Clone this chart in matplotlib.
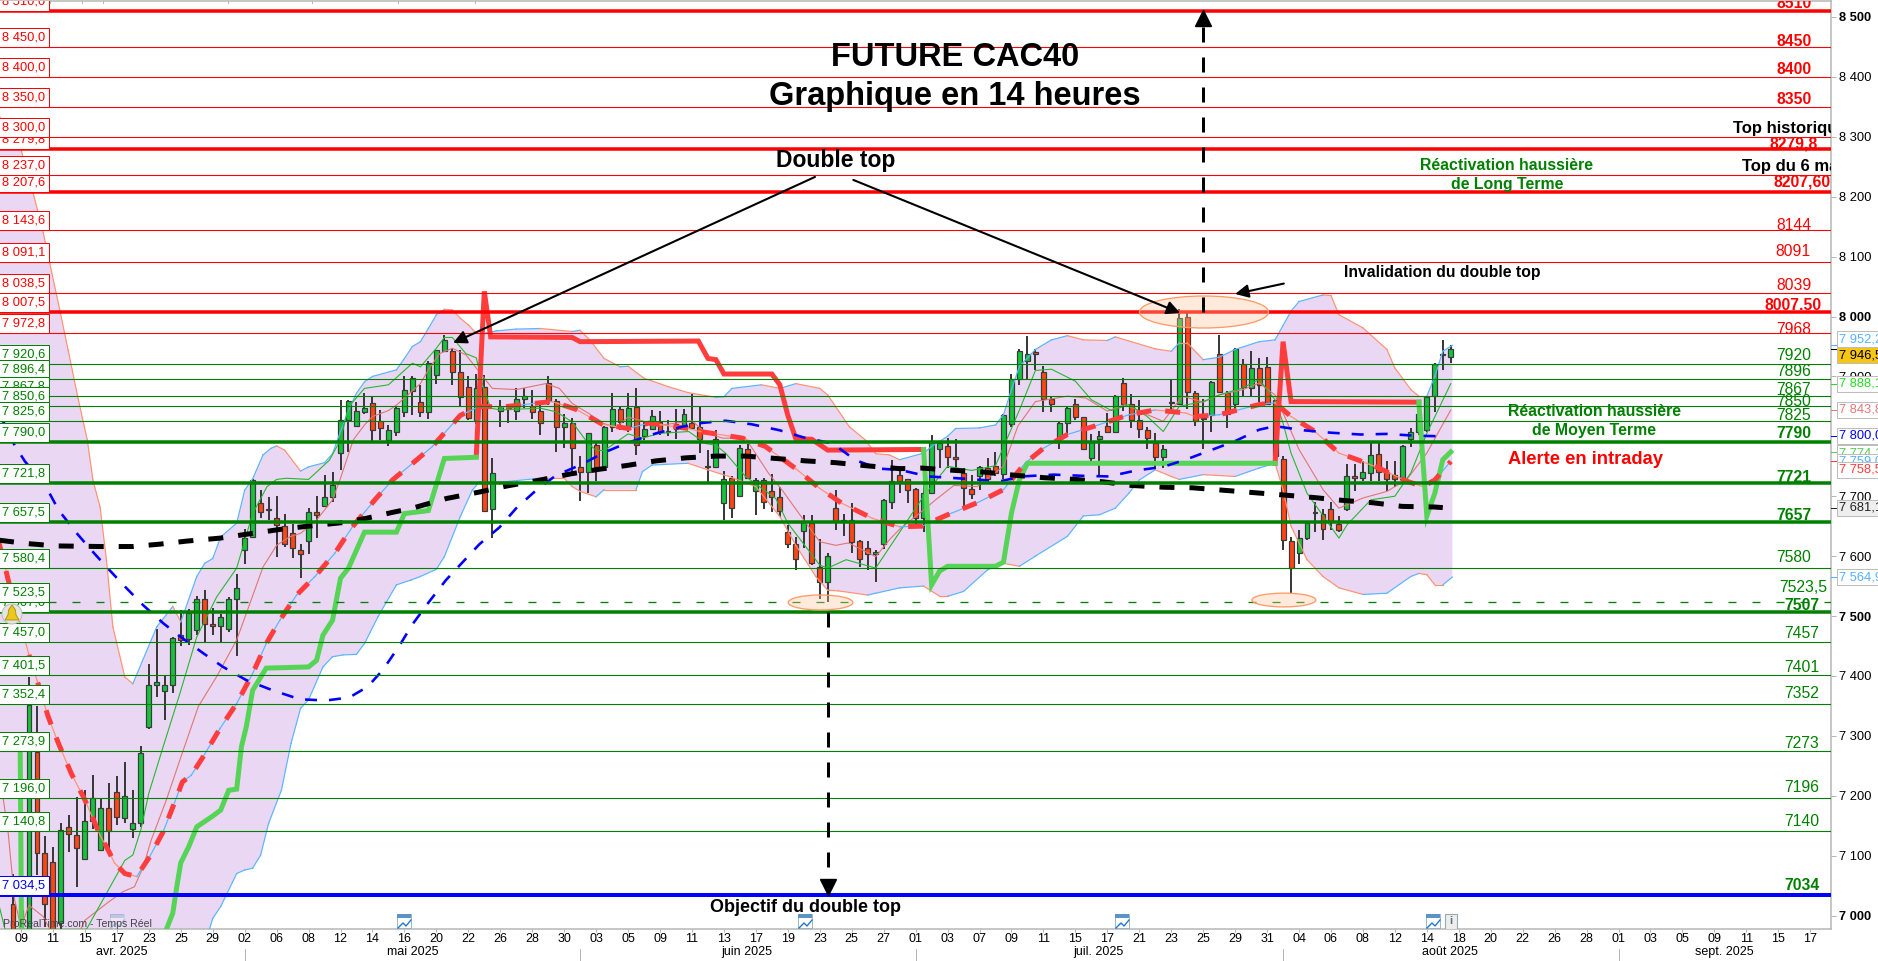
"""
Future CAC40, 14 hour candles with levels, Bollinger bands, moving averages and notes.
Saved as out.png
"""

import matplotlib
matplotlib.use("Agg")
import matplotlib.pyplot as plt
import matplotlib.transforms as mtransforms
from matplotlib.patches import Rectangle, Ellipse, Circle, Polygon

# ──────────────────────────────────────────────
# Configuration
# ──────────────────────────────────────────────
W, H = 1878, 961
FONT = "Liberation Sans"
GREEN = "#008000"
RED = "#ff0000"
BLUE = "#0000ff"
PX = 0.72  # one pixel in points at dpi 100

plt.rcParams["font.family"] = [FONT, "DejaVu Sans"]
plt.rcParams["lines.scale_dashes"] = False

# ──────────────────────────────────────────────
# Candles, first one sits at index -1
# ──────────────────────────────────────────────
OPEN = [
    7020, 7010, 6960, 7273, 7105, 7090, 6987, 7148, 7135, 7094,
    7158, 7110, 7180, 7207, 7162, 7144, 7154, 7314, 7384, 7374,
    7385, 7469, 7461, 7477, 7528, 7486, 7484, 7479, 7528, 7610,
    7632, 7688, 7678, 7664, 7651, 7638, 7611, 7626, 7674, 7684,
    7699, 7772, 7827, 7817, 7841, 7855, 7826, 7794, 7808, 7840,
    7876, 7857, 7840, 7903, 7943, 7942, 7907, 7883, 7828, 7882,
    7678, 7843, 7845, 7843, 7862, 7851, 7842, 7889, 7859, 7815,
    7822, 7749, 7741, 7786, 7749, 7815, 7845, 7817, 7849, 7801,
    7812, 7824, 7809, 7813, 7819, 7822, 7816, 7751, 7748, 7688,
    7730, 7701, 7779, 7709, 7727, 7709, 7698, 7641, 7621, 7642,
    7655, 7581, 7556, 7680, 7661, 7661, 7625, 7613, 7603, 7621,
    7691, 7736, 7728, 7712, 7664, 7705, 7778, 7783, 7765, 7739,
    7712, 7733, 7747, 7750, 7737, 7821, 7895, 7926, 7940, 7907,
    7863, 7795, 7822, 7854, 7832, 7763, 7795, 7818, 7807, 7889,
    7854, 7827, 7811, 7789, 7765, 7857, 7854, 7999, 7872, 7829,
    7836, 7938, 7873, 7854, 7921, 7881, 7914, 7916, 7860, 7762,
    7626, 7606, 7630, 7672, 7670, 7679, 7654, 7679, 7733, 7730,
    7739, 7770, 7741, 7736, 7728, 7795, 7807, 7811, 7867, 7937,
    7933,
]
HIGH = [
    7070, 7040, 7399, 7349, 7132, 7115, 7155, 7168, 7198, 7209,
    7234, 7196, 7221, 7233, 7256, 7209, 7283, 7420, 7479, 7400,
    7465, 7510, 7511, 7533, 7544, 7514, 7503, 7532, 7570, 7646,
    7729, 7711, 7698, 7700, 7671, 7653, 7620, 7680, 7700, 7735,
    7740, 7861, 7861, 7858, 7872, 7866, 7844, 7819, 7850, 7900,
    7901, 7886, 7926, 7944, 7969, 7945, 7944, 7901, 7904, 7902,
    7763, 7861, 7849, 7880, 7880, 7877, 7855, 7901, 7863, 7838,
    7830, 7767, 7806, 7788, 7817, 7872, 7851, 7872, 7880, 7824,
    7844, 7842, 7828, 7846, 7846, 7870, 7849, 7777, 7810, 7742,
    7733, 7785, 7787, 7731, 7730, 7737, 7715, 7652, 7632, 7669,
    7669, 7628, 7605, 7710, 7670, 7688, 7627, 7625, 7610, 7695,
    7761, 7750, 7729, 7714, 7728, 7803, 7789, 7797, 7795, 7747,
    7736, 7750, 7763, 7774, 7837, 7904, 7945, 7968, 7945, 7917,
    7868, 7825, 7850, 7863, 7833, 7804, 7809, 7839, 7869, 7897,
    7871, 7861, 7815, 7806, 7786, 7895, 8013, 8009, 7875, 7862,
    7893, 7969, 7875, 7947, 7929, 7943, 7931, 7932, 7861, 7767,
    7632, 7644, 7655, 7691, 7678, 7691, 7667, 7753, 7754, 7759,
    7789, 7789, 7758, 7758, 7786, 7814, 7837, 7867, 7922, 7961,
    7952,
]
LOW = [
    6950, 6950, 6950, 7068, 6981, 6950, 6960, 7106, 7047, 7094,
    7145, 7110, 7110, 7151, 7155, 7129, 7148, 7311, 7365, 7327,
    7372, 7450, 7452, 7469, 7457, 7468, 7457, 7474, 7434, 7586,
    7630, 7664, 7661, 7599, 7616, 7597, 7564, 7603, 7631, 7684,
    7691, 7744, 7774, 7816, 7838, 7788, 7794, 7784, 7800, 7832,
    7836, 7832, 7829, 7888, 7943, 7886, 7851, 7828, 7821, 7676,
    7630, 7816, 7823, 7827, 7847, 7829, 7802, 7852, 7773, 7780,
    7738, 7692, 7705, 7726, 7748, 7807, 7810, 7808, 7769, 7794,
    7810, 7802, 7800, 7795, 7812, 7812, 7772, 7723, 7748, 7660,
    7663, 7701, 7729, 7669, 7679, 7674, 7665, 7614, 7576, 7613,
    7585, 7528, 7524, 7643, 7634, 7605, 7581, 7577, 7557, 7612,
    7678, 7705, 7688, 7650, 7641, 7705, 7747, 7747, 7739, 7684,
    7696, 7710, 7725, 7733, 7728, 7815, 7886, 7895, 7911, 7840,
    7840, 7779, 7804, 7828, 7778, 7758, 7733, 7807, 7807, 7842,
    7814, 7797, 7778, 7746, 7747, 7839, 7853, 7846, 7817, 7778,
    7808, 7872, 7814, 7839, 7868, 7868, 7858, 7853, 7767, 7610,
    7538, 7587, 7627, 7641, 7627, 7643, 7641, 7676, 7708, 7725,
    7725, 7725, 7708, 7716, 7725, 7782, 7803, 7808, 7840, 7910,
    7923,
]
CLOSE = [
    6960, 6970, 7351, 7104, 7020, 6975, 7142, 7136, 7112, 7157,
    7197, 7179, 7141, 7164, 7200, 7154, 7271, 7385, 7390, 7384,
    7464, 7460, 7505, 7528, 7487, 7484, 7499, 7528, 7546, 7631,
    7727, 7674, 7677, 7652, 7621, 7613, 7603, 7673, 7669, 7699,
    7719, 7828, 7859, 7843, 7848, 7811, 7814, 7811, 7847, 7877,
    7898, 7840, 7923, 7944, 7960, 7907, 7865, 7831, 7880, 7676,
    7738, 7849, 7848, 7863, 7868, 7841, 7823, 7859, 7815, 7823,
    7780, 7740, 7805, 7749, 7815, 7845, 7824, 7848, 7785, 7813,
    7834, 7807, 7807, 7820, 7838, 7814, 7795, 7748, 7795, 7728,
    7681, 7780, 7731, 7727, 7690, 7699, 7675, 7621, 7596, 7657,
    7588, 7556, 7601, 7659, 7659, 7624, 7596, 7603, 7607, 7694,
    7726, 7725, 7710, 7664, 7705, 7790, 7789, 7765, 7762, 7714,
    7704, 7749, 7728, 7739, 7836, 7896, 7943, 7937, 7938, 7862,
    7854, 7822, 7847, 7832, 7779, 7790, 7800, 7807, 7868, 7854,
    7827, 7812, 7798, 7765, 7779, 7855, 7998, 7874, 7825, 7831,
    7891, 7874, 7837, 7945, 7882, 7914, 7886, 7854, 7767, 7627,
    7580, 7630, 7655, 7674, 7645, 7658, 7644, 7733, 7730, 7740,
    7769, 7741, 7728, 7728, 7784, 7807, 7837, 7866, 7921, 7935,
    7946,
]

# ──────────────────────────────────────────────
# Indicators read at their bends: index and price
# ──────────────────────────────────────────────
UPPER_X = [
    -3, 0, 1.5, 2.8, 3.6, 4.9, 5.9, 7.1, 8.3, 9, 9.9, 10.7, 11.5, 13, 14, 17, 19, 20, 22, 23, 24, 25, 27, 28, 29,
    30.3, 31.3, 32, 33, 35, 36, 38, 39, 40, 41, 42, 43, 44, 47, 48, 49, 50, 51, 52, 53, 54, 55, 56, 57, 58,
    59.5, 62, 65, 69, 70, 71.2, 73, 75, 76, 78, 81, 83.5, 87, 88, 89, 92.7, 95, 97, 100, 101, 103.7, 105.7, 107,
    108.7, 110, 113, 114, 116, 117, 120, 122, 123, 124, 125, 127, 129, 131, 133, 136, 137, 142, 144, 145, 146,
    148, 150, 152, 155, 157, 159, 160, 163, 164, 165, 168, 171, 172, 174, 175, 176, 177, 178, 179.2,
]
UPPER_Y = [
    8340, 8279, 8207, 8139, 8089, 8008, 7944, 7866, 7794, 7727, 7682, 7593, 7482, 7398, 7387, 7482, 7516, 7490,
    7566, 7588, 7596, 7632, 7655, 7710, 7729,
    7769, 7780, 7784, 7777, 7742, 7749, 7756, 7771, 7808, 7844, 7872, 7891, 7900, 7911, 7930, 7950, 7958, 7980,
    8003, 8012, 8011, 7997, 7986, 7972, 7972,
    7976, 7979, 7980, 7975, 7977, 7961, 7930, 7916, 7917, 7897, 7883, 7873, 7865, 7866, 7880, 7886, 7880, 7888,
    7880, 7869, 7816, 7794, 7771,
    7769, 7761, 7772, 7783, 7800, 7813, 7814, 7819, 7836, 7878, 7917, 7945, 7961, 7968, 7961, 7960, 7966, 7946,
    7942, 7956, 7956,
    7928, 7932, 7945, 7958, 7961, 8009, 8025, 8036, 8035, 8003, 7981, 7945, 7914, 7878, 7867, 7867, 7900, 7942,
    7952,
]
LOWER_X = [
    -3, 23.6, 24, 25, 27, 28, 29, 30, 31, 32.6, 33.8, 35, 36, 37.8, 39, 40.3, 42, 43, 44.7, 47, 48.8, 50, 52, 53,
    55, 56.5, 57.4, 59, 65, 68, 69, 70, 72, 73, 77, 77.8, 79, 83.5, 86, 88.6, 92, 95, 97, 99.5, 101, 102.3, 106,
    107, 110, 113, 115, 116, 118, 121, 123, 125, 127, 131, 133, 135, 137, 138.7, 140, 142, 144, 145, 148, 152,
    155, 157, 158, 159, 161, 163, 165, 168, 171, 174, 175, 176, 177, 178, 179.2,
]
LOWER_Y = [
    6900, 6977, 6995, 7015, 7070, 7076, 7079, 7101, 7154, 7209, 7287, 7346, 7360, 7415, 7432, 7435, 7436, 7454,
    7499, 7552, 7560, 7566, 7578, 7599,
    7666, 7710, 7724, 7722, 7730, 7730, 7716, 7708, 7699, 7711, 7711, 7741, 7752, 7755, 7744, 7733, 7716, 7666,
    7618, 7566, 7543, 7542, 7535,
    7538, 7547, 7550, 7533, 7533, 7541, 7577, 7588, 7583, 7600, 7633, 7667, 7669, 7680, 7705, 7727, 7744, 7733,
    7728, 7736, 7733,
    7747, 7755, 7711, 7650, 7594, 7566, 7547, 7536, 7538, 7566, 7571, 7569, 7552, 7552, 7565,
]
MIDDLE_X = [
    -3, -2.2, -1.6, -0.8, 0, 1, 2.8, 3.6, 7.4, 8, 11, 12.8, 14.2, 15.3, 16.3, 18.2, 19.9, 22.2, 24.5, 27, 28.2,
    30.3, 32, 33.6, 35, 37, 39, 40, 41.6, 43, 44, 46, 47, 50, 51, 52.4, 54, 55.7, 57, 59, 62, 65.7, 67.4, 69, 71.1,
    72.8, 74.5, 76, 78.6, 80.3, 82, 84, 85.7, 87.8, 90.7, 93.6, 95.3, 97.4, 100, 102, 103.6, 107, 108.7, 110, 113,
    114.5, 116.8, 119.7, 123, 124.8, 127, 131, 133.3, 136, 138.2, 140.5, 143, 145.4, 148, 150, 153, 155, 157, 158,
    160, 163, 165, 168, 171, 173.5, 176, 179,
]
MIDDLE_Y = [
    7230, 7193, 7137, 7026, 6981, 7017, 6998, 6977, 6975, 6992, 7023, 7040, 7048, 7081, 7126, 7193, 7260, 7349,
    7399, 7460, 7504,
    7582, 7618, 7632, 7638, 7660, 7694, 7730, 7794, 7819, 7833, 7843, 7852, 7888, 7911, 7938, 7947, 7936, 7914,
    7880, 7878, 7888, 7880, 7855, 7838,
    7822, 7815, 7832, 7823, 7819, 7822, 7826, 7806, 7797, 7797, 7738, 7710, 7671, 7624, 7618, 7622, 7599, 7627,
    7645, 7677,
    7694, 7718, 7716, 7750, 7817, 7858, 7867, 7864, 7842, 7853, 7839, 7825, 7867, 7857, 7869, 7878, 7889, 7869,
    7839,
    7778, 7711, 7680, 7697, 7708, 7728, 7772, 7844,
]
SHORT_X = [
    -3, -2, 8.2, 10.7, 13, 14, 15, 16, 17.8, 19.9, 22, 24.5, 27, 29, 30.8, 32, 33.2, 36, 38.6, 40, 41, 43, 46, 49,
    50, 52, 53, 54, 55.7, 57, 57.9, 58.8, 60, 65, 67, 69, 71, 72, 73, 76, 77.8, 80, 83.6, 85.7, 87, 88.2, 90.7,
    94.5, 96, 100, 101, 103.3, 107, 110, 113, 116, 119, 122, 125, 127, 129, 132, 134, 136.5, 138.7, 141, 143, 145,
    148, 150, 153, 155, 157, 158, 159, 161, 165, 166, 169, 172, 174, 176, 179,
]
SHORT_Y = [
    7030, 6977, 6977, 7037, 7092, 7101, 7143, 7204, 7282, 7371, 7465, 7532, 7580, 7671, 7716, 7728, 7730, 7728,
    7760, 7794, 7849, 7880, 7886, 7922,
    7916, 7947, 7965, 7965, 7938, 7931, 7880, 7847, 7844, 7847, 7841, 7824, 7788, 7777, 7776, 7804, 7797, 7805,
    7808, 7788, 7785, 7772, 7733,
    7696, 7655, 7585, 7580, 7594, 7580, 7640, 7700, 7750, 7743, 7751, 7844, 7910, 7912, 7892, 7861, 7843, 7853,
    7833, 7808, 7850,
    7858, 7869, 7881, 7895, 7861, 7822, 7772, 7705, 7630, 7652, 7694, 7700, 7739, 7805, 7888,
]
# thick stop line, one piece per stretch
STOP_RED_1_X = [57, 58, 58.8, 69, 70, 84.8, 86, 87, 88, 94, 95, 96, 97, 99, 101, 113]
STOP_RED_1_Y = [7769, 8042, 7966, 7965, 7958, 7959, 7930, 7928, 7904, 7904, 7886, 7835, 7796, 7795, 7777, 7778]
STOP_RED_2_X = [157, 158, 159, 175]
STOP_RED_2_Y = [7755, 7958, 7858, 7857]
STOP_GREEN_1_X = [-0.1, 0.1, 18, 18.2, 19, 19.5, 20, 21, 22, 24, 25, 26, 27, 27.6, 28.2, 29, 30.7, 36, 37, 37.8, 39, 40,
                  41, 43, 47, 48, 51, 53, 57]
STOP_GREEN_1_Y = [7273, 6900, 6900, 6977, 7004, 7048, 7088, 7115, 7148, 7166, 7176, 7209, 7211, 7282, 7315, 7376, 7413,
                  7415, 7426, 7468, 7493, 7563, 7580, 7640, 7640, 7671, 7676, 7763, 7765]
STOP_GREEN_2_X = [113, 114, 115, 116, 122, 123, 124, 125, 126, 157]
STOP_GREEN_2_Y = [7778, 7552, 7575, 7583, 7583, 7590, 7672, 7728, 7755, 7755]
STOP_GREEN_3_X = [175, 176, 177, 178, 179]
STOP_GREEN_3_Y = [7857, 7667, 7705, 7761, 7774]

RED_DASH_X = [
    -3, -2.2, -1.6, 1, 2, 3.4, 4.7, 6.3, 8, 9.9, 11, 11.7, 13, 14.5, 15, 16.1, 17.8, 19.5, 20.2, 21.3, 22.8, 24.9,
    27, 29, 30.7, 32.4, 34.5, 36.8, 39.3, 41.5, 44.3, 46.5, 49.3, 51.5, 55, 57.4, 60.3, 65, 66.5, 69.5, 72.8, 76,
    78.6, 83.6, 85, 87, 90.3, 93.2, 97, 100, 102.8, 106.6, 110, 112.8, 116, 119.7, 123, 125.7, 128, 131, 134.4,
    138.7, 142, 145.8, 147, 150, 155, 157, 159, 162, 165, 167.3, 170, 173.5, 175.5, 177, 179,
]
RED_DASH_Y = [
    7635, 7593, 7560, 7435, 7393, 7332, 7287, 7237, 7193, 7134, 7107, 7088, 7070, 7065, 7076, 7098, 7140, 7198,
    7223, 7234, 7265, 7312,
    7354, 7404, 7454, 7493, 7535, 7566, 7605, 7649, 7694, 7727, 7758, 7783, 7835, 7850, 7849, 7856, 7858, 7845,
    7820, 7813,
    7822, 7813, 7808, 7804, 7797, 7783, 7746, 7713, 7688, 7663, 7649, 7650, 7669, 7689, 7711, 7755, 7780, 7803,
    7817,
    7836, 7844, 7839, 7833, 7836, 7853, 7856, 7833, 7808, 7772, 7761, 7747, 7725, 7716, 7727, 7758,
]
BLUE_DASH_X = [
    -3, -2.2, -0.8, 0.5, 3, 4.7, 6.8, 8.6, 10.7, 12.8, 15.3, 17.8, 20, 22.8, 25.3, 28.2, 31.5, 34.9, 38.2, 41.1,
    43.4, 45.3, 47.4, 49, 51.1, 53.2, 55.3, 57.4, 59.9, 62, 64.5, 67, 70, 73.2, 75.7, 79.5, 82.8, 85, 88.2, 91.5,
    95, 98, 101.6, 104.5, 107.4, 110, 113.6, 117.2, 122.6, 125.3, 129.3, 133, 136.2, 139.6, 143, 145.8, 149, 152,
    155, 157, 160.6, 164, 167.7, 171, 174.5, 178,
]
BLUE_DASH_Y = [
    7846, 7824, 7785, 7758, 7719, 7677, 7641, 7613, 7582, 7552, 7518, 7488, 7465, 7438, 7415, 7393, 7376, 7361,
    7359, 7364,
    7382, 7410, 7451, 7486, 7524, 7560, 7590, 7620, 7648, 7680, 7710, 7735, 7752, 7774, 7788, 7805, 7816, 7822,
    7826, 7820,
    7810, 7798, 7788, 7760, 7746, 7744, 7733, 7730, 7725, 7733, 7736, 7734, 7733, 7743, 7749, 7761, 7777, 7792,
    7811, 7817, 7810, 7806, 7803, 7804, 7801, 7800,
]
BLACK_DASH_X = [
    -3, 0.7, 4.4, 10, 14, 17.4, 20.7, 24.9, 29, 33.2, 37.4, 40.3, 43.2, 46.5, 49, 53.2, 57.4, 60.8, 65, 68.7, 72.4,
    75.7, 79.5, 83.2, 87, 90.7, 94.5, 98.2, 102, 105.7, 110, 112.7, 117, 120.8, 124.4, 128, 132, 135.5, 139, 143,
    146.7, 150.5, 154.3, 158.1, 161.7, 165.5, 169.3, 172.9, 176.9, 178,
]
BLACK_DASH_Y = [
    7627, 7621, 7617, 7616, 7616, 7620, 7625, 7630, 7638, 7646, 7652, 7656, 7663, 7673, 7680, 7696, 7707, 7717,
    7727, 7737, 7745,
    7751, 7759, 7764, 7767, 7767, 7763, 7759, 7756, 7751, 7746, 7747, 7743, 7740, 7735, 7731, 7728, 7724, 7718,
    7715,
    7714, 7710, 7706, 7702, 7698, 7693, 7689, 7683, 7682, 7681,
]

# ──────────────────────────────────────────────
# Levels and their left boxes, in drawing order
# ──────────────────────────────────────────────
RED_LEVELS = [7972.8, 8007.5, 8038.5, 8091.1, 8143.6, 8207.6, 8237.0, 8279.8, 8300.0, 8350.0, 8400.0, 8450.0, 8510.0]
RED_BOXES = ["7 972,8", "8 007,5", "8 038,5", "8 091,1", "8 143,6", "8 207,6", "8 237,0", "8 279,8", "8 300,0",
             "8 350,0", "8 400,0", "8 450,0", "8 510,0"]
RED_THICK = [8007.5, 8207.6, 8279.8, 8510.0]
GREEN_LEVELS = [7920.6, 7896.4, 7867.8, 7850.6, 7825.6, 7790.0, 7721.8, 7657.5, 7580.4, 7507.0, 7523.5, 7457.0,
                7401.5, 7352.4, 7273.9, 7196.0, 7140.8]
GREEN_BOXES = ["7 920,6", "7 896,4", "7 867,8", "7 850,6", "7 825,6", "7 790,0", "7 721,8", "7 657,5", "7 580,4",
               "7 507,0", "7 523,5", "7 457,0", "7 401,5", "7 352,4", "7 273,9", "7 196,0", "7 140,8"]
GREEN_THICK = [7790.0, 7721.8, 7657.5, 7507.0]
GREEN_DASHED = [7523.5]
BLUE_LEVEL = 7034.5
BLUE_BOX = "7 034,5"

# ──────────────────────────────────────────────
# Axis labels
# ──────────────────────────────────────────────
PRICE_TICKS = [7000, 7100, 7200, 7300, 7400, 7500, 7600, 7700, 7800, 7900, 8000, 8100, 8200, 8300, 8400, 8500]
PRICE_LABELS = ["7 000", "7 100", "7 200", "7 300", "7 400", "7 500", "7 600", "7 700", "7 800", "7 900", "8 000",
                "8 100", "8 200", "8 300", "8 400", "8 500"]
BOLD_TICKS = [7000, 7500, 8000, 8500]
DATE_LABELS = [
    "09", "11", "15", "17", "23", "25", "29",
    "02", "06", "08", "12", "14", "16", "20", "22", "26", "28", "30",
    "03", "05", "09", "11", "13", "17", "19", "23", "25", "27",
    "01", "03", "07", "09", "11", "15", "17", "21", "23", "25", "29", "31",
    "04", "06", "08", "12", "14", "18", "20", "22", "26", "28",
    "01", "03", "05", "09", "11", "15", "17",
]
MONTH_LABELS = ["avr. 2025", "mai 2025", "juin 2025", "juil. 2025", "août 2025", "sept. 2025"]
MONTH_POS = [12.6, 49, 90.9, 134.9, 178.9, 213.3]
MONTH_SEPS = [28, 70, 112, 158, 200]

# right tags: text, price of the tick, price at the middle of the box, text colour, box colour
TAG_TEXTS = ["7 952,2", "7 946,5", "7 888,1", "7 843,8", "7 800,0", "7 774,1", "7 759,0", "7 758,5", "7 681,1", "7 564,9"]
TAG_PRICES = [7952.2, 7946.5, 7888.1, 7843.8, 7800.0, 7774.1, 7759.0, 7758.5, 7681.1, 7564.9]
TAG_PIXEL_Y = [339, 355, 384, 410, 436, 453, 462, 470, 508, 577]
TAG_COLORS = ["#55b0ff", "#000000", "#22dd22", "#e87878", "#0000ff", "#55cc55", "#55b0ff", "#ff3b3b", "#222222", "#55b0ff"]
TAG_FACES = ["#ffffff", "#f7c513", "#ffffff", "#ffffff", "#ffffff", "#ffffff", "#ffffff", "#ffffff", "#eeeeee", "#ffffff"]

# right hand notes of the levels: text, pixel x, pixel y, colour, bold
NOTE_TEXTS = ["8510", "8450", "8400", "8350", "8279,8", "8207,60", "8144", "8091", "8039", "8007.50", "7968",
              "7920", "7896", "7867", "7850", "7825", "7790", "7721", "7657", "7580", "7523,5", "7507",
              "7457", "7401", "7352", "7273", "7196", "7140", "7034"]
NOTE_X = [1794, 1794, 1794, 1794, 1794, 1802, 1794, 1793, 1794, 1793, 1794,
          1794, 1794, 1794, 1794, 1794, 1794, 1794, 1794, 1794, 1803, 1802,
          1802, 1802, 1802, 1802, 1802, 1802, 1802]
NOTE_Y = [3, 42, 70, 100, 144, 182, 226, 252, 286, 305, 329,
          356, 372, 389, 402, 415, 434, 477, 515, 558, 587, 605,
          634, 668, 693, 743, 788, 821, 886]
NOTE_RED = 11
NOTE_BOLD = ["8510", "8450", "8400", "8350", "8279,8", "8207,60", "8007.50", "7790", "7721", "7657", "7507", "7034"]

CALENDAR_X = [117, 404, 805, 1122, 1433]
CALENDAR_ALPHA = [0.35, 1, 1, 1, 1]
TOP_MARKS = [3.6, 7.6, 10.3, 25.9, 36.4, 47.2, 56.8]


def draw_candles(ax):
    """Wicks first, then the bodies with a dark outline."""
    xs = [i - 1 for i in range(len(OPEN))]
    ax.vlines(xs, LOW, HIGH, colors="#3a3a3a", linewidth=2.0 * PX, zorder=3)
    bottoms = [min(o, c) for o, c in zip(OPEN, CLOSE)]
    heights = [abs(c - o) for o, c in zip(OPEN, CLOSE)]
    colors = ["#14c53a" if c >= o else "#ff4514" for o, c in zip(OPEN, CLOSE)]
    ax.bar(xs, heights, bottom=bottoms, width=0.62, color=colors, edgecolor="#3a3a3a",
           linewidth=1.2 * PX, zorder=3.1)


def two_tone(ax, xs, ys, lw=1.0, zorder=4):
    """Blue where the line climbs, salmon where it falls."""
    for k in range(len(xs) - 1):
        color = "#5ab6ff" if ys[k + 1] > ys[k] else "#ff9270"
        ax.plot(xs[k:k + 2], ys[k:k + 2], color=color, lw=lw * PX, zorder=zorder)


def draw_indicators(ax):
    poly_x = UPPER_X + LOWER_X[::-1]
    poly_y = UPPER_Y + LOWER_Y[::-1]
    ax.fill(poly_x, poly_y, color="#ead7f4", lw=0, zorder=1)
    two_tone(ax, UPPER_X, UPPER_Y, lw=1.2)
    two_tone(ax, LOWER_X, LOWER_Y, lw=1.2)
    ax.plot(MIDDLE_X, MIDDLE_Y, color="#e0766e", lw=1.1 * PX, zorder=4)
    ax.plot(SHORT_X, SHORT_Y, color="#22b92c", lw=1.1 * PX, zorder=4)

    for xs, ys in [(STOP_RED_1_X, STOP_RED_1_Y), (STOP_RED_2_X, STOP_RED_2_Y)]:
        ax.plot(xs, ys, color="#ff3d3d", lw=5 * PX, zorder=4.2, solid_joinstyle="miter")
    for xs, ys in [(STOP_GREEN_1_X, STOP_GREEN_1_Y), (STOP_GREEN_2_X, STOP_GREEN_2_Y), (STOP_GREEN_3_X, STOP_GREEN_3_Y)]:
        ax.plot(xs, ys, color="#55d455", lw=5 * PX, zorder=4.2, solid_joinstyle="miter")

    two_tone(ax, RED_DASH_X, RED_DASH_Y, lw=1.2, zorder=4.1)
    ax.plot(RED_DASH_X, RED_DASH_Y, color="#ff3d3d", lw=5 * PX, zorder=4.3,
            linestyle=(0, (15 * PX, 14 * PX)))
    ax.plot(BLUE_DASH_X, BLUE_DASH_Y, color=BLUE, lw=2.6 * PX, zorder=4.3,
            linestyle=(0, (12 * PX, 12 * PX)))
    ax.plot(BLACK_DASH_X, BLACK_DASH_Y, color="black", lw=5 * PX, zorder=4.4,
            linestyle=(0, (15 * PX, 15 * PX)))


def draw_levels(ax):
    for value in RED_LEVELS:
        ax.axhline(value, color=RED, lw=(3.5 if value in RED_THICK else 1.1) * PX, zorder=5)
    for value in GREEN_LEVELS:
        if value in GREEN_DASHED:
            ax.axhline(value, color=GREEN, lw=1.3 * PX, zorder=5, linestyle=(0, (8 * PX, 16 * PX)))
        else:
            ax.axhline(value, color=GREEN, lw=(3.5 if value in GREEN_THICK else 1.1) * PX, zorder=5)
    ax.axhline(BLUE_LEVEL, color=BLUE, lw=4 * PX, zorder=5)


def draw_left_boxes(ax, px):
    """Boxes stand on their level, later ones cover earlier ones."""
    groups = [(RED_LEVELS, RED_BOXES, RED), (GREEN_LEVELS, GREEN_BOXES, GREEN), ([BLUE_LEVEL], [BLUE_BOX], BLUE)]
    z = 6.0
    for values, labels, color in groups:
        for value, label in zip(values, labels):
            y = ax.transData.transform((0, value))[1]
            y = H - y
            ax.add_patch(Rectangle((-2, y - 19), 50.5, 19, transform=px, facecolor="white", edgecolor=color,
                                   lw=1.0 * PX, zorder=z))
            t = ax.text(2.5, y - 9.5, label, transform=px, color=color, fontsize=9.3, va="center", zorder=z + 0.001)
            t.set_clip_on(True)
            z += 0.01


def draw_tags(ax, px):
    for text, price, y, color, face in zip(TAG_TEXTS, TAG_PRICES, TAG_PIXEL_Y, TAG_COLORS, TAG_FACES):
        ax.plot([1, 1.0033], [price, price], transform=ax.get_yaxis_transform(), color=color, lw=1.0 * PX,
                clip_on=False, zorder=9)
        ax.add_patch(Rectangle((1837, y - 8), 60, 16, transform=px, facecolor=face, edgecolor="#bdbdbd",
                               lw=1.0 * PX, clip_on=False, zorder=10 + y / 1000))
        ax.text(1839, y, text, transform=px, color=color, fontsize=9.3, va="center", clip_on=False,
                zorder=10.0005 + y / 1000)


def draw_icons(ax, px):
    # bell on the left edge
    ax.add_patch(Circle((12, 614), 10, transform=px, facecolor="#e6e6e0", edgecolor="#bbbbbb", lw=0.7, zorder=8))
    bell = [(5, 620), (8, 615), (8.5, 610), (12, 605), (15.5, 610), (16, 615), (19, 620)]
    ax.add_patch(Polygon(bell, transform=px, facecolor="#ecc81c", edgecolor="#a98d10", lw=0.6, zorder=8.1))
    # calendars along the bottom
    for x, alpha in zip(CALENDAR_X, CALENDAR_ALPHA):
        ax.add_patch(Rectangle((x - 7, 914), 14, 14, transform=px, facecolor="white", edgecolor="#8fa8bb",
                               lw=0.6, alpha=alpha, zorder=7))
        ax.add_patch(Rectangle((x - 7, 914), 14, 4, transform=px, facecolor="#5b93c4", lw=0, alpha=alpha, zorder=7.1))
        ax.plot([x - 6, x - 1, x + 2, x + 7], [928, 923, 926, 920], transform=px, color="#1f78d0", lw=1.0,
                alpha=alpha, zorder=7.2)
    # info box
    ax.add_patch(Rectangle((1445, 914), 12, 15, transform=px, facecolor="#eeeeee", edgecolor="#9aa7b0", lw=0.8, zorder=7))
    ax.text(1451, 921.5, "i", transform=px, color="#607080", fontsize=8, ha="center", va="center", zorder=7.1,
            fontweight="bold")
    ax.text(3, 924, "ProRealTime.com - Temps Réel", transform=px, color="#444444", fontsize=7.6, va="center", zorder=7.5)


def draw_notes(ax, px):
    ax.text(955, 57, "FUTURE CAC40", transform=px, fontsize=23.5, fontweight="bold", ha="center", va="center", zorder=8)
    ax.text(955, 96, "Graphique en 14 heures", transform=px, fontsize=23.5, fontweight="bold", ha="center", va="center", zorder=8)
    ax.text(836, 160, "Double top", transform=px, fontsize=16.5, fontweight="bold", ha="center", va="center", zorder=8)
    ax.text(1442, 273, "Invalidation du double top", transform=px, fontsize=11.3, fontweight="bold", ha="center", va="center", zorder=8)
    ax.text(805, 908, "Objectif du double top", transform=px, fontsize=13, fontweight="bold", ha="center", va="center", zorder=8)
    ax.text(1507, 165, "Réactivation haussière", transform=px, fontsize=11.4, fontweight="bold", color=GREEN, ha="center", va="center", zorder=8)
    ax.text(1507, 185, "de Long Terme", transform=px, fontsize=11.4, fontweight="bold", color=GREEN, ha="center", va="center", zorder=8)
    ax.text(1594, 411, "Réactivation haussière", transform=px, fontsize=11.4, fontweight="bold", color=GREEN, ha="center", va="center", zorder=8)
    ax.text(1594, 430, "de Moyen Terme", transform=px, fontsize=11.4, fontweight="bold", color=GREEN, ha="center", va="center", zorder=8)
    ax.text(1508, 460, "Alerte en intraday", transform=px, fontsize=13.2, fontweight="bold", color=RED, va="center", zorder=8)
    ax.text(1733, 128, "Top historique", transform=px, fontsize=12, fontweight="bold", va="center", zorder=8, clip_on=True)
    ax.text(1742, 166, "Top du 6 mai", transform=px, fontsize=12, fontweight="bold", va="center", zorder=8, clip_on=True)

    for k, (text, x, y) in enumerate(zip(NOTE_TEXTS, NOTE_X, NOTE_Y)):
        color = RED if k < NOTE_RED else GREEN
        weight = "bold" if text in NOTE_BOLD else "normal"
        ax.text(x, y, text, transform=px, color=color, fontsize=11.3, fontweight=weight, ha="center", va="center",
                zorder=8, clip_on=True)

    arrow = dict(arrowstyle="-|>", color="black", lw=1.5, mutation_scale=20, shrinkA=0, shrinkB=0)
    ax.annotate("", xy=(54.1, 7956), xytext=(99.4, 8233), arrowprops=arrow, zorder=8)
    ax.annotate("", xy=(145.1, 8006), xytext=(104.2, 8228), arrowprops=arrow, zorder=8)
    ax.annotate("", xy=(152, 8037.6), xytext=(158.1, 8055), arrowprops=arrow, zorder=8)

    # target of the double top, both ways
    dash = (0, (15 * PX, 15 * PX))
    ax.plot([148, 148], [8007.5, 8500], color="black", lw=3 * PX, linestyle=dash, zorder=7)
    ax.plot([148], [8498], marker="^", ms=11, color="black", zorder=7)
    ax.plot([101, 101], [7507, 7045], color="black", lw=3 * PX, linestyle=dash, zorder=7)
    ax.plot([101], [7047], marker="v", ms=11, color="black", zorder=7)

    for cx, cy, w, h in [(148.1, 8007.5, 16.15, 53.4), (100.1, 7522.6, 8.1, 25), (158.1, 7526.7, 8, 23)]:
        ax.add_patch(Ellipse((cx, cy), w, h, facecolor="#ffc49a", edgecolor="none", alpha=0.35, zorder=6))
        ax.add_patch(Ellipse((cx, cy), w, h, facecolor="none", edgecolor="#ff9a66", lw=1.3 * PX, zorder=6))


def build_figure():
    fig = plt.figure(figsize=(W / 100, H / 100), dpi=100)
    ax = fig.add_axes([0, (H - 929) / H, 1831 / W, 928 / H])
    ax.set_xlim(-2.63, 226.6)
    ax.set_ylim(6977.5, 8526.7)

    ax.spines["left"].set_visible(False)
    for side in ["top", "right", "bottom"]:
        ax.spines[side].set_color("#b5b5b5")
        ax.spines[side].set_linewidth(1.5 * PX)

    ax.yaxis.tick_right()
    ax.set_yticks(PRICE_TICKS, PRICE_LABELS)
    ax.tick_params(axis="y", length=5 * PX, width=1.0 * PX, color="#b5b5b5", pad=2.5, labelsize=9.3)
    for label, value in zip(ax.get_yticklabels(), PRICE_TICKS):
        if value in BOLD_TICKS:
            label.set_fontweight("bold")

    ax.set_xticks([4 * k for k in range(len(DATE_LABELS))], DATE_LABELS)
    ax.tick_params(axis="x", length=3 * PX, width=1.0 * PX, color="#b5b5b5", pad=0.5, labelsize=9)

    # pixel coordinates of the output picture, y going down
    px = mtransforms.Affine2D().scale(1, -1).translate(0, H)
    fig.canvas.draw()

    draw_indicators(ax)
    draw_candles(ax)
    draw_levels(ax)
    ax.set_xlim(-2.63, 226.6)
    ax.set_ylim(6977.5, 8526.7)
    draw_left_boxes(ax, px)
    draw_tags(ax, px)
    draw_icons(ax, px)
    draw_notes(ax, px)

    for label, pos in zip(MONTH_LABELS, MONTH_POS):
        ax.text(pos, -0.0245, label, transform=ax.get_xaxis_transform(), fontsize=9, ha="center", va="center", clip_on=False)
    for pos in MONTH_SEPS:
        ax.plot([pos, pos], [-0.022, -0.034], transform=ax.get_xaxis_transform(), color="#b5b5b5", lw=1.0 * PX, clip_on=False)
    for pos in TOP_MARKS:
        ax.plot([pos, pos], [1.0, 0.998], transform=ax.get_xaxis_transform(), color="#b5b5b5", lw=1.0 * PX, zorder=9)

    fig.savefig("out.png", dpi=100, facecolor="white")


if __name__ == "__main__":
    build_figure()
